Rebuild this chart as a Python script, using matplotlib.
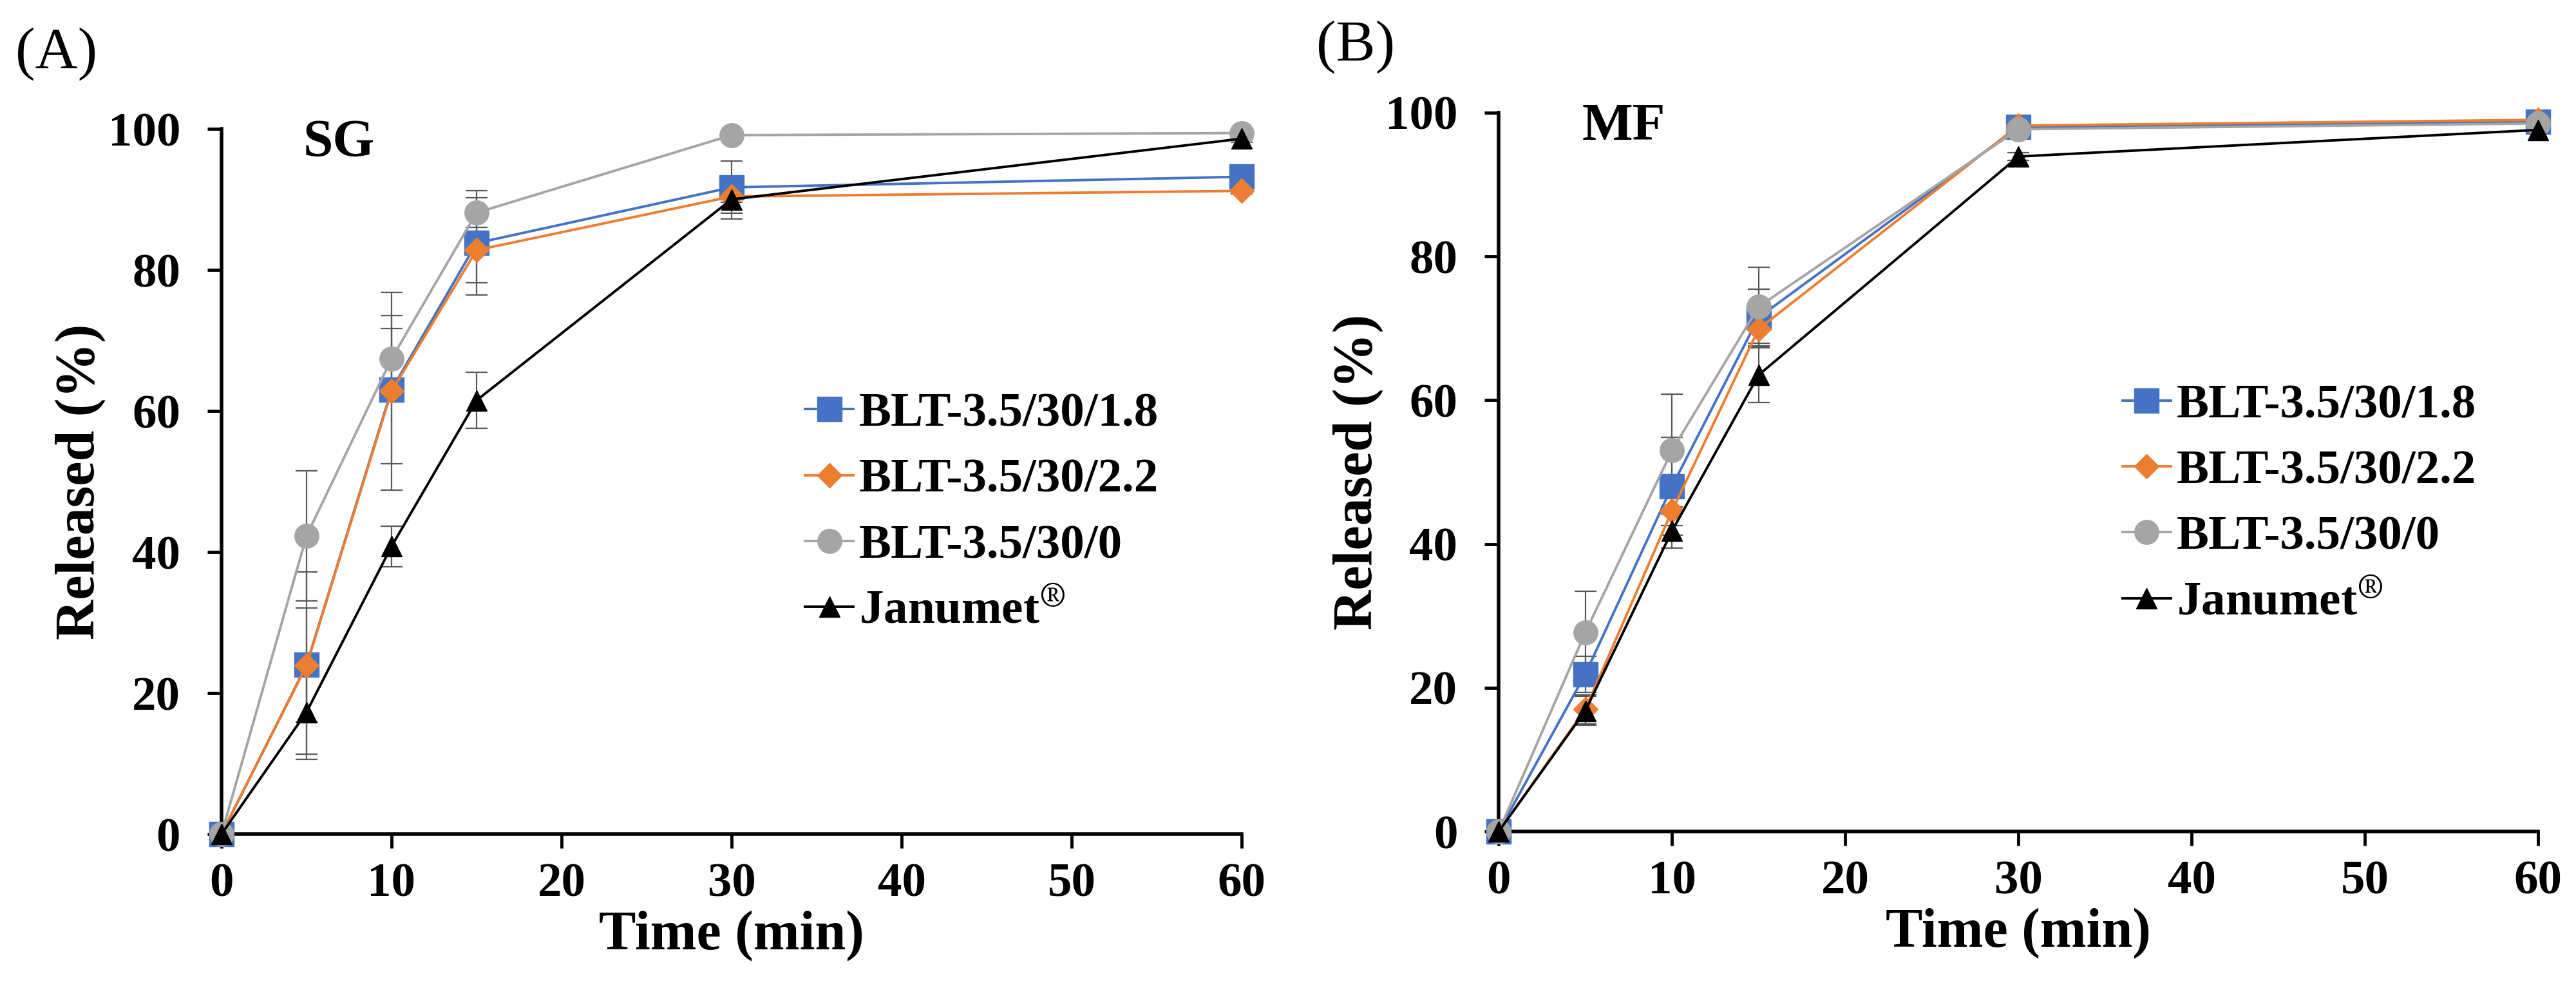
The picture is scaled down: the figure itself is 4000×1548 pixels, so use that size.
import numpy as np
import matplotlib.pyplot as plt

plt.rcParams['font.family'] = ['Liberation Serif', 'DejaVu Serif']
plt.rcParams['mathtext.fontset'] = 'stix'

# sampling times (min)
time_min = [0, 5, 10, 15, 30, 60]

series_names = ['BLT-3.5/30/1.8', 'BLT-3.5/30/2.2', 'BLT-3.5/30/0', r'Janumet$^{\circledR}$']

# (A) SG release (%) and SD
sg_18 = [0, 24.0, 63.0, 83.8, 91.7, 93.2]
sg_18_sd = [0, 8.1, 10.5, 7.4, 3.7, 0.5]
sg_22 = [0, 23.9, 62.8, 82.8, 90.4, 91.2]
sg_22_sd = [0, 13.3, 14.0, 4.6, 0.8, 0.4]
sg_0 = [0, 42.3, 67.4, 88.1, 99.1, 99.4]
sg_0_sd = [0, 9.2, 4.3, 2.1, 0.4, 0.3]
sg_jan = [0, 17.3, 40.8, 61.5, 90.0, 98.6]
sg_jan_sd = [0, 6.0, 2.9, 4.0, 2.8, 0.5]

# (B) MF release (%) and SD
mf_18 = [0, 21.9, 48.0, 71.5, 98.0, 98.7]
mf_18_sd = [0, 2.5, 6.8, 3.9, 0.5, 0.4]
mf_22 = [0, 17.0, 44.6, 69.9, 98.2, 99.0]
mf_22_sd = [0, 2.0, 2.0, 2.0, 0.5, 0.3]
mf_0 = [0, 27.7, 53.0, 73.0, 97.7, 98.5]
mf_0_sd = [0, 5.7, 7.8, 5.5, 0.5, 0.4]
mf_jan = [0, 16.8, 41.8, 63.5, 93.9, 97.6]
mf_jan_sd = [0, 2.0, 2.4, 3.8, 0.5, 0.5]

colors = ['#4472C4', '#ED7D31', '#A5A5A5', '#000000']
markers = ['s', 'D', 'o', '^']
msizes = [27, 19, 27, 23]

fig = plt.figure(figsize=(40, 15.48), dpi=100)
ax_a = fig.add_axes([0.086, 0.1634, 0.396, 0.7074])
ax_b = fig.add_axes([0.5818, 0.166, 0.4035, 0.721])


def draw_panel(ax, values, errors, tag, legend_x):
    for i, (y, e) in enumerate(zip(values, errors)):
        ax.errorbar(time_min, y, yerr=e, fmt='none', ecolor='#595959',
                    elinewidth=1.6, capsize=12, capthick=1.6, zorder=2, clip_on=False)
        ax.plot(time_min, y, color=colors[i], marker=markers[i], markersize=msizes[i],
                markeredgecolor=colors[i], linewidth=2.8, label=series_names[i],
                zorder=3 + i, clip_on=False)

    ax.set_xlim(0, 60)
    ax.set_ylim(0, 100)
    ax.set_xticks(np.arange(0, 61, 10))
    ax.set_yticks(np.arange(0, 101, 20))
    for side in ['top', 'right']:
        ax.spines[side].set_visible(False)
    for side in ['left', 'bottom']:
        ax.spines[side].set_linewidth(4)
    ax.tick_params(axis='both', direction='out', length=16, width=3.5, labelsize=54)
    ax.tick_params(axis='x', pad=16)
    ax.tick_params(axis='y', pad=30)
    for lbl in ax.get_xticklabels() + ax.get_yticklabels():
        lbl.set_fontweight('bold')

    ax.set_xlabel('Time (min)', fontsize=62, fontweight='bold', labelpad=4)
    ax.set_ylabel('Released (%)', fontsize=62, fontweight='bold', labelpad=2)

    ax.text(0.08, 0.962, tag, transform=ax.transAxes, fontsize=60, fontweight='bold',
            ha='left', va='baseline')

    leg = ax.legend(loc='center left', bbox_to_anchor=(legend_x, 0.455), frameon=False,
                    prop={'family': 'Liberation Serif', 'weight': 'bold', 'size': 54},
                    handlelength=1.0, handletextpad=0.12, labelspacing=0.45,
                    borderpad=0, borderaxespad=0, markerscale=1.0)
    return leg


draw_panel(ax_a, [sg_18, sg_22, sg_0, sg_jan], [sg_18_sd, sg_22_sd, sg_0_sd, sg_jan_sd], 'SG', 0.572)
draw_panel(ax_b, [mf_18, mf_22, mf_0, mf_jan], [mf_18_sd, mf_22_sd, mf_0_sd, mf_jan_sd], 'MF', 0.600)

fig.text(0.006, 0.932, '(A)', fontsize=66, ha='left', va='baseline')
fig.text(0.511, 0.939, '(B)', fontsize=66, ha='left', va='baseline')

fig.savefig('out.png', dpi=100, facecolor='white')
